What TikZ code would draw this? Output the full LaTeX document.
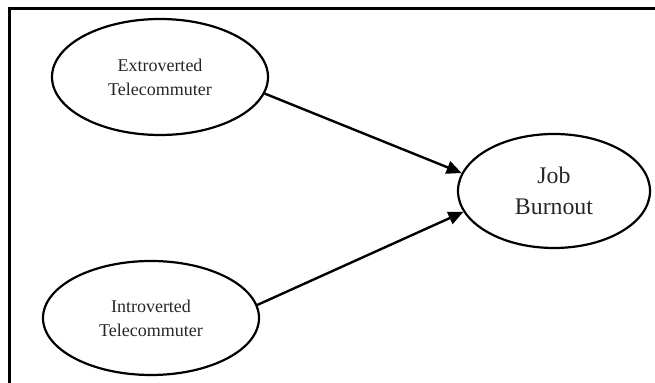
\documentclass[tikz,border=0pt]{standalone}
\usepackage{fontspec}
\setmainfont{Liberation Serif}
\usetikzlibrary{shapes.geometric,arrows.meta}

\begin{document}
\begin{tikzpicture}[x = 0.5pt, y = -0.5pt, > = {Triangle[length = 7.5pt, width = 6.5pt]},
	construct/.style = {ellipse, draw, line width = 1.1pt, inner sep = 0pt, align = center,
		text = black!85, font = \fontsize{9}{12}\selectfont},
	outcome/.style = {construct, font = \fontsize{11.9}{15.5}\selectfont}]

	% Canvas of the figure

	\useasboundingbox (0, 0) rectangle (655, 383);

	% The frame (top and left edges only)

	\draw [line width = 1.5pt] (9, 383) -- (9, 9) -- (655, 9);

	% Three constructs

	\node [construct, minimum width = 108pt, minimum height = 58pt] (extro) at (160, 77)
		{Extroverted\\Telecommuter};
	\node [construct, minimum width = 108pt, minimum height = 57pt] (intro) at (151, 318)
		{Introverted\\Telecommuter};
	\node [outcome, minimum width = 96pt, minimum height = 57pt] (burnout) at (554, 191)
		{Job\\Burnout};

	% Two paths

	\begin{scope}[->, line width = 1.2pt]

		\draw (extro.-9) -- (burnout.169);
		\draw (intro.7) -- (burnout.193);

	\end{scope}

\end{tikzpicture}
\end{document}
